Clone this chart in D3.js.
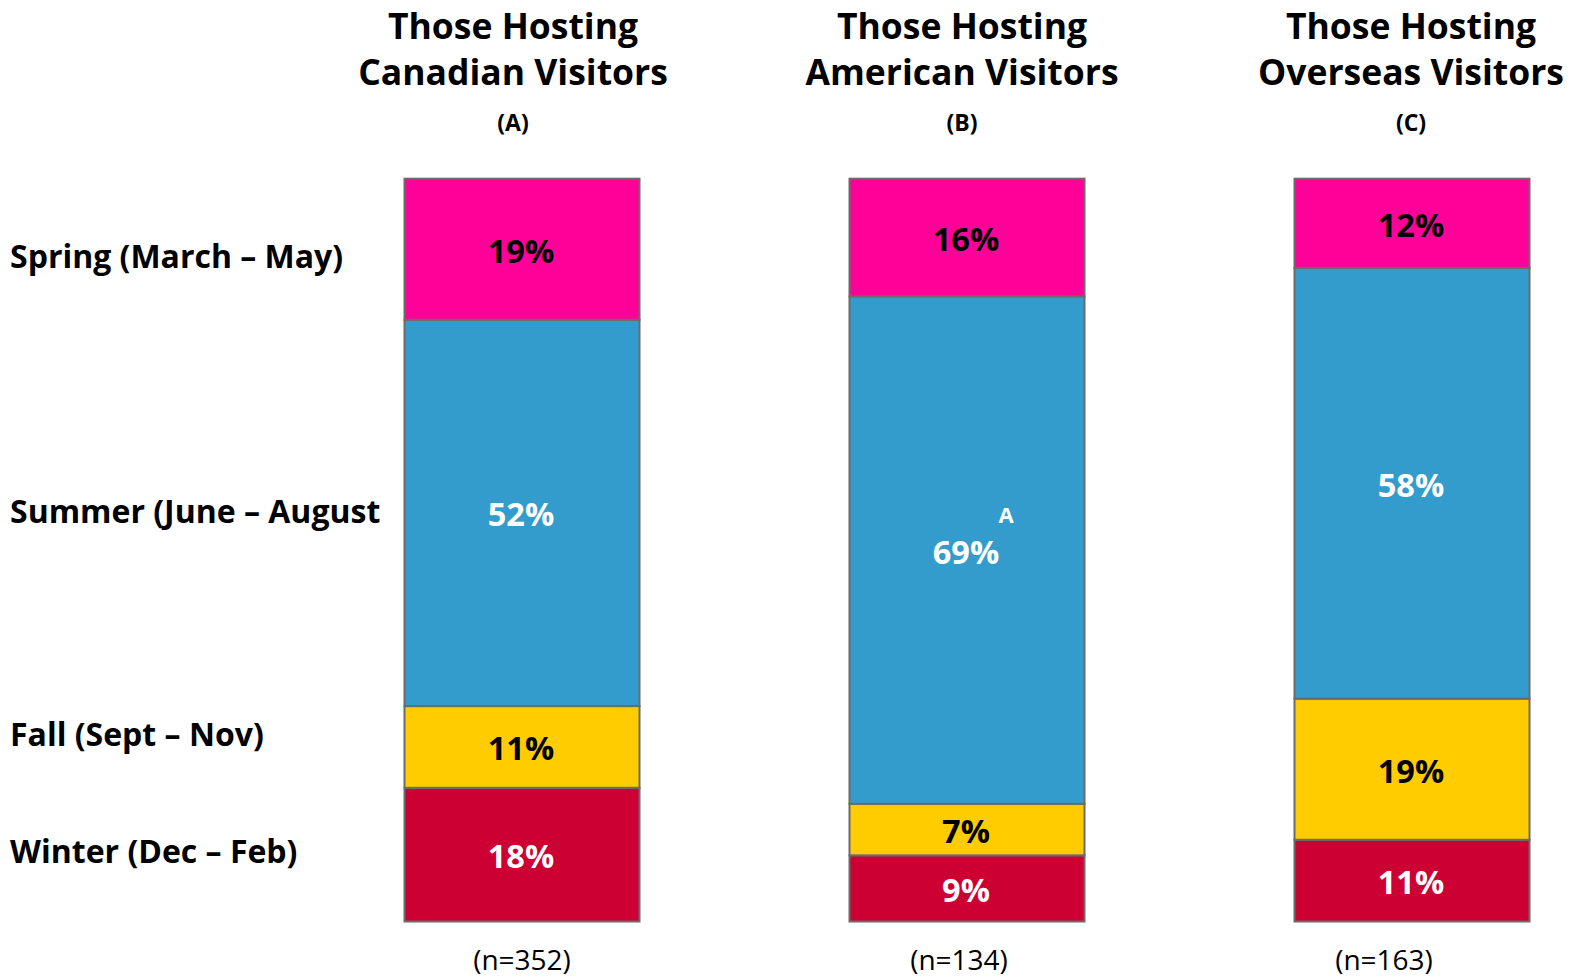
<!DOCTYPE html>
<html>
<head>
<meta charset="utf-8">
<script src="https://cdn.jsdelivr.net/npm/d3@7"></script>
<style>
  body { margin: 0; background: #fff; }
  svg text { font-family: "Open Sans", Lato, sans-serif; }
</style>
</head>
<body>
<div id="main"></div>
<script>
// data, bottom segment first
const groups = ["A", "B", "C"];
const titles = [["Those Hosting", "Canadian Visitors"], ["Those Hosting", "American Visitors"], ["Those Hosting", "Overseas Visitors"]];
const sampleSizes = ["(n=352)", "(n=134)", "(n=163)"];
const seasons = ["Winter", "Fall", "Summer", "Spring"];
const seasonLabels = ["Winter (Dec \u2013 Feb)", "Fall (Sept \u2013 Nov)", "Summer (June \u2013 August", "Spring (March \u2013 May)"];
const winter = [18, 9, 11];
const fall = [11, 7, 19];
const summer = [52, 69, 58];
const spring = [19, 16, 12];
const sigLetters = [["", "", "", ""], ["", "", "A", ""], ["", "", "", ""]]; // per group, per season

const colors = ["#CC0033", "#FFCC00", "#339CCC", "#FF0099"];
const textColors = ["#fff", "#000", "#fff", "#000"];

const W = 1574, H = 980;
const barWidth = 235;

const rows = groups.map((g, i) => ({
	group: g, Winter: winter[i], Fall: fall[i], Summer: summer[i], Spring: spring[i]
}));

const stack = d3.stack().keys(seasons).offset(d3.stackOffsetExpand);
const series = stack(rows);

let x = d3.scalePoint()
	.domain(groups)
	.range([522, 1412]);

let y = d3.scaleLinear()
	.domain([0, 1])
	.range([921.5, 178.7]);

let svg = d3.select("#main")
	.append("svg")
		.attr("width", W)
		.attr("height", H);

// segments
let layer = svg.selectAll("g.layer")
	.data(series)
	.enter()
	.append("g")
		.attr("class", "layer");

layer.selectAll("rect")
	.data((s, si) => s.map((d, gi) => ({d, si, gi})))
	.enter()
	.append("rect")
		.attr("x", o => x(groups[o.gi]) - barWidth / 2)
		.attr("y", o => y(o.d[1]))
		.attr("width", barWidth)
		.attr("height", o => y(o.d[0]) - y(o.d[1]))
		.attr("fill", o => colors[o.si])
		.attr("stroke", "#6b6b6b")
		.attr("stroke-width", 2);

// value labels
layer.selectAll("text.val")
	.data((s, si) => s.map((d, gi) => ({d, si, gi, key: s.key})))
	.enter()
	.append("text")
		.attr("class", "val")
		.attr("x", o => x(groups[o.gi]) - 1)
		.attr("y", o => (y(o.d[0]) + y(o.d[1])) / 2 + 1)
		.attr("text-anchor", "middle")
		.attr("dominant-baseline", "central")
		.attr("font-size", 32.5)
		.attr("font-weight", "bold")
		.attr("fill", o => textColors[o.si])
		.text(o => rows[o.gi][o.key] + "%");

// significance letters
layer.selectAll("text.sig")
	.data((s, si) => s.map((d, gi) => ({d, si, gi})).filter(o => sigLetters[o.gi][o.si]))
	.enter()
	.append("text")
		.attr("class", "sig")
		.attr("x", o => x(groups[o.gi]) + 39)
		.attr("y", o => (y(o.d[0]) + y(o.d[1])) / 2 - 36)
		.attr("text-anchor", "middle")
		.attr("dominant-baseline", "central")
		.attr("font-size", 22)
		.attr("font-weight", "bold")
		.attr("fill", o => textColors[o.si])
		.text(o => sigLetters[o.gi][o.si]);

// titles
const titleShift = [-9, -5, -1];
const nShift = [0, -8, -28];
groups.forEach((g, i) => {
	let cx = x(g) + titleShift[i];
	let t = svg.append("text")
		.attr("x", cx)
		.attr("text-anchor", "middle")
		.attr("font-size", 35.5)
		.attr("font-weight", "bold")
		.attr("fill", "#000");
	titles[i].forEach((line, li) => {
		t.append("tspan")
			.attr("x", cx)
			.attr("y", 39 + li * 46)
			.text(line);
	});
	svg.append("text")
		.attr("x", cx)
		.attr("y", 131)
		.attr("text-anchor", "middle")
		.attr("font-size", 23)
		.attr("font-weight", "bold")
		.text("(" + g + ")");
	svg.append("text")
		.attr("x", x(g) + nShift[i])
		.attr("y", 970)
		.attr("text-anchor", "middle")
		.attr("font-size", 28)
		.text(sampleSizes[i]);
});

// season labels, aligned to the first bar
const labelShift = [-4, -13, -2, 6];
series.forEach((s, si) => {
	let d = s[0];
	svg.append("text")
		.attr("x", 10)
		.attr("y", (y(d[0]) + y(d[1])) / 2 + labelShift[si])
		.attr("dominant-baseline", "central")
		.attr("font-size", 32)
		.attr("font-weight", "bold")
		.text(seasonLabels[si]);
});
</script>
</body>
</html>
